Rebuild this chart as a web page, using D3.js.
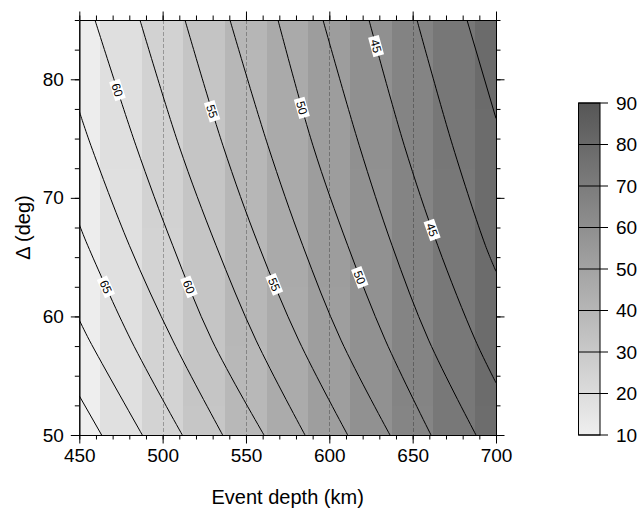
<!DOCTYPE html>
<html>
<head>
<meta charset="utf-8">
<script src="https://cdn.jsdelivr.net/npm/d3@7"></script>
<style>
  body { margin: 0; background: #fff; }
  svg { display: block; }
  text { font-family: "Liberation Sans", Arial, Helvetica, sans-serif; fill: #000; }
</style>
</head>
<body>
<svg id="chart" width="640" height="510"></svg>
<script>
// ---- data -------------------------------------------------------------
// Shaded grid: cell centres in event depth (km) and distance (deg)
const depthCols = [450, 475, 500, 525, 550, 575, 600, 625, 650, 675, 700];
const deltaRows = [50, 55, 60, 65, 70, 75, 80, 85];
// One row per distance (50 -> 85), one value per depth column
const fillGrid = [
  [10.6, 17.7, 24.6, 31.6, 38.9, 45.6, 52.4, 59.0, 65.6, 72.0, 78.1],
  [10.7, 17.8, 24.7, 31.7, 39.0, 45.7, 52.5, 59.1, 65.7, 72.1, 78.3],
  [10.8, 17.9, 24.8, 31.8, 39.1, 45.8, 52.6, 59.2, 65.8, 72.2, 78.4],
  [10.9, 18.0, 24.9, 31.9, 39.2, 45.9, 52.7, 59.3, 65.9, 72.3, 78.5],
  [11.0, 18.1, 25.0, 32.0, 39.3, 46.0, 52.8, 59.4, 66.0, 72.4, 78.6],
  [11.1, 18.2, 25.1, 32.1, 39.4, 46.1, 52.9, 59.5, 66.1, 72.5, 78.7],
  [11.2, 18.3, 25.2, 32.2, 39.5, 46.2, 53.0, 59.6, 66.2, 72.6, 78.8],
  [11.3, 18.4, 25.3, 32.3, 39.6, 46.3, 53.1, 59.7, 66.3, 72.7, 78.9]
];

// Contour levels and the traced [depth, delta] points of each line
const contourLevels = [70, 67.5, 65, 62.5, 60, 57.5, 55, 52.5, 50, 47.5, 45, 42.5, 40];
const contourLines = [
  [[450, 53.3], [463.4, 50]],
  [[450, 59.7], [456.0, 58.0], [487.8, 50]],
  [[450, 67.75], [455.0, 66.0], [481.0, 58.0], [511.8, 50]],
  [[450, 77.3], [457.0, 74.4], [480.0, 66.0], [506.0, 58.0], [536.0, 50]],
  [[459.4, 85], [484.0, 74.4], [506.0, 66.0], [529.6, 58.0], [560.8, 50]],
  [[486.4, 85], [509.8, 74.4], [532.0, 66.0], [556.0, 58.0], [585.4, 50]],
  [[513.4, 85], [536.2, 74.4], [557.6, 66.0], [581.6, 58.0], [611.0, 50]],
  [[540.4, 85], [563.2, 74.4], [584.0, 66.0], [607.0, 58.0], [636.4, 50]],
  [[569.2, 85], [590.2, 74.4], [611.0, 66.0], [633.6, 58.0], [661.0, 50]],
  [[596.2, 85], [618.0, 74.4], [637.6, 66.0], [659.6, 58.0], [688.0, 50]],
  [[623.8, 85], [645.0, 74.4], [665.0, 66.0], [687.6, 58.0], [700, 54.4]],
  [[652.6, 85], [674.0, 74.4], [693.6, 66.0], [700, 63.8]],
  [[682.6, 85], [700, 76.7]]
];

// Inline contour labels: level and the distance at which it sits
const labelLevels = [60, 55, 50, 45, 65, 60, 55, 50, 45];
const labelDelta  = [79.1, 77.3, 77.6, 82.8, 62.5, 62.5, 62.7, 63.3, 67.3];

// Tick labels
const xTicks = [450, 500, 550, 600, 650, 700];
const yTicks = [50, 60, 70, 80];
const gridDepths = [500, 550, 600, 650];
const barTicks = [10, 20, 30, 40, 50, 60, 70, 80, 90];

// ---- layout -----------------------------------------------------------
const svg = d3.select("#chart");
const x = d3.scaleLinear().domain([450, 700]).range([79.3, 496]);
const y = d3.scaleLinear().domain([50, 85]).range([435, 20]);
const grey = d3.scaleLinear().domain([10, 90]).range(["#efefef", "#565656"]).clamp(true);

const defs = svg.append("defs");
defs.append("clipPath").attr("id", "plotClip")
  .append("rect")
  .attr("x", x(450)).attr("y", y(85))
  .attr("width", x(700) - x(450)).attr("height", y(50) - y(85));

const plot = svg.append("g").attr("clip-path", "url(#plotClip)");

// shaded cells
const cells = [];
deltaRows.forEach((dl, i) => depthCols.forEach((dp, j) => {
  cells.push({
    x0: Math.max(450, dp - 12.5), x1: Math.min(700, dp + 12.5),
    y0: Math.max(50, dl - 2.5), y1: Math.min(85, dl + 2.5),
    v: fillGrid[i][j]
  });
}));
plot.selectAll("rect.cell").data(cells).join("rect")
  .attr("class", "cell")
  .attr("x", d => x(d.x0))
  .attr("y", d => y(d.y1))
  .attr("width", d => x(d.x1) - x(d.x0) + 0.4)
  .attr("height", d => y(d.y0) - y(d.y1) + 0.4)
  .attr("fill", d => grey(d.v))
  .attr("shape-rendering", "crispEdges");

// dashed depth grid
plot.selectAll("line.grid").data(gridDepths).join("line")
  .attr("class", "grid")
  .attr("x1", d => Math.round(x(d)) + 0.5).attr("x2", d => Math.round(x(d)) + 0.5)
  .attr("y1", y(85)).attr("y2", y(50))
  .attr("stroke", "#000").attr("stroke-opacity", 0.28)
  .attr("stroke-width", 1).attr("stroke-dasharray", "4,2");

// contour lines
const lineGen = d3.line().x(d => x(d[0])).y(d => y(d[1])).curve(d3.curveCatmullRom.alpha(0.5));
const paths = plot.selectAll("path.contour").data(contourLines).join("path")
  .attr("class", "contour")
  .attr("d", lineGen)
  .attr("fill", "none")
  .attr("stroke", "#000")
  .attr("stroke-width", 1);

// contour labels placed on their line
const pathNodes = paths.nodes();
const labelG = svg.append("g");
labelLevels.forEach((lev, k) => {
  const node = pathNodes[contourLevels.indexOf(lev)];
  const total = node.getTotalLength();
  const ty = y(labelDelta[k]);
  let best = 0, bestD = Infinity;
  for (let l = 0; l <= total; l += 0.25) {
    const p = node.getPointAtLength(l);
    const dd = Math.abs(p.y - ty);
    if (dd < bestD) { bestD = dd; best = l; }
  }
  const p = node.getPointAtLength(best);
  const a = node.getPointAtLength(Math.max(0, best - 4));
  const b = node.getPointAtLength(Math.min(total, best + 4));
  let ang = Math.atan2(b.y - a.y, b.x - a.x) * 180 / Math.PI;
  if (ang < 0) ang += 180;
  const g = labelG.append("g").attr("transform", `translate(${p.x},${p.y}) rotate(${ang})`);
  g.append("rect").attr("x", -10).attr("y", -5.5).attr("width", 20).attr("height", 11).attr("fill", "#fff");
  g.append("text").attr("text-anchor", "middle").attr("dy", "0.36em")
    .attr("font-size", 12).text(d3.format("d")(lev));
});

// axes: major and minor ticks on all four sides
function styleAxis(g) {
  g.selectAll("path.domain").attr("stroke", "#000").attr("stroke-width", 1);
  g.selectAll(".tick line").attr("stroke", "#000").attr("stroke-width", 1);
  g.selectAll(".tick text").attr("font-size", 19).attr("fill", "#000")
    .attr("font-family", '"Liberation Sans", Arial, sans-serif');
}
const minorX = d3.range(450, 701, 10);
const minorY = d3.range(50, 85.01, 2.5);

svg.append("g").attr("transform", `translate(0,${y(50)})`)
  .call(d3.axisBottom(x).tickValues(minorX).tickSize(4.5).tickSizeOuter(0).tickFormat(""))
  .call(styleAxis);
svg.append("g").attr("transform", `translate(0,${y(50)})`)
  .call(d3.axisBottom(x).tickValues(xTicks).tickSize(8.5).tickSizeOuter(0).tickPadding(5).tickFormat(d3.format("d")))
  .call(styleAxis);
svg.append("g").attr("transform", `translate(0,${y(85)})`)
  .call(d3.axisTop(x).tickValues(minorX).tickSize(4.5).tickSizeOuter(0).tickFormat(""))
  .call(styleAxis);
svg.append("g").attr("transform", `translate(0,${y(85)})`)
  .call(d3.axisTop(x).tickValues(xTicks).tickSize(8.5).tickSizeOuter(0).tickFormat(""))
  .call(styleAxis);
svg.append("g").attr("transform", `translate(${x(450)},0)`)
  .call(d3.axisLeft(y).tickValues(minorY).tickSize(4.5).tickSizeOuter(0).tickFormat(""))
  .call(styleAxis);
svg.append("g").attr("transform", `translate(${x(450)},0)`)
  .call(d3.axisLeft(y).tickValues(yTicks).tickSize(8.5).tickSizeOuter(0).tickPadding(7).tickFormat(d3.format("d")))
  .call(styleAxis);
svg.append("g").attr("transform", `translate(${x(700)},0)`)
  .call(d3.axisRight(y).tickValues(minorY).tickSize(4.5).tickSizeOuter(0).tickFormat(""))
  .call(styleAxis);
svg.append("g").attr("transform", `translate(${x(700)},0)`)
  .call(d3.axisRight(y).tickValues(yTicks).tickSize(8.5).tickSizeOuter(0).tickFormat(""))
  .call(styleAxis);

// axis titles
svg.append("text")
  .attr("x", (x(450) + x(700)) / 2).attr("y", 504)
  .attr("text-anchor", "middle").attr("font-size", 20)
  .text("Event depth (km)");
svg.append("text")
  .attr("transform", `translate(30,${(y(50) + y(85)) / 2}) rotate(-90)`)
  .attr("text-anchor", "middle").attr("font-size", 20)
  .text("\u0394 (deg)");

// colour bar: vertical gradient built from the same grey scale
const cb = d3.scaleLinear().domain([10, 90]).range([435, 103]);
const cbX = 578.5, cbW = 21.5;
const grad = defs.append("linearGradient").attr("id", "cbGrad")
  .attr("x1", 0).attr("y1", 1).attr("x2", 0).attr("y2", 0);
grad.selectAll("stop").data(barTicks).join("stop")
  .attr("offset", d => (d - 10) / 80)
  .attr("stop-color", d => grey(d));
const cbG = svg.append("g");
cbG.append("rect")
  .attr("x", cbX).attr("y", cb(90)).attr("width", cbW).attr("height", cb(10) - cb(90))
  .attr("fill", "url(#cbGrad)").attr("stroke", "#000").attr("stroke-width", 1);
cbG.selectAll("line.cbtick").data(barTicks).join("line")
  .attr("class", "cbtick")
  .attr("x1", cbX).attr("x2", cbX + cbW + 8)
  .attr("y1", d => cb(d)).attr("y2", d => cb(d))
  .attr("stroke", "#000").attr("stroke-width", 1);
cbG.selectAll("text.cblab").data(barTicks).join("text")
  .attr("class", "cblab")
  .attr("x", cbX + cbW + 16).attr("y", d => cb(d)).attr("dy", "0.36em")
  .attr("font-size", 19)
  .text(d => d);
</script>
</body>
</html>
